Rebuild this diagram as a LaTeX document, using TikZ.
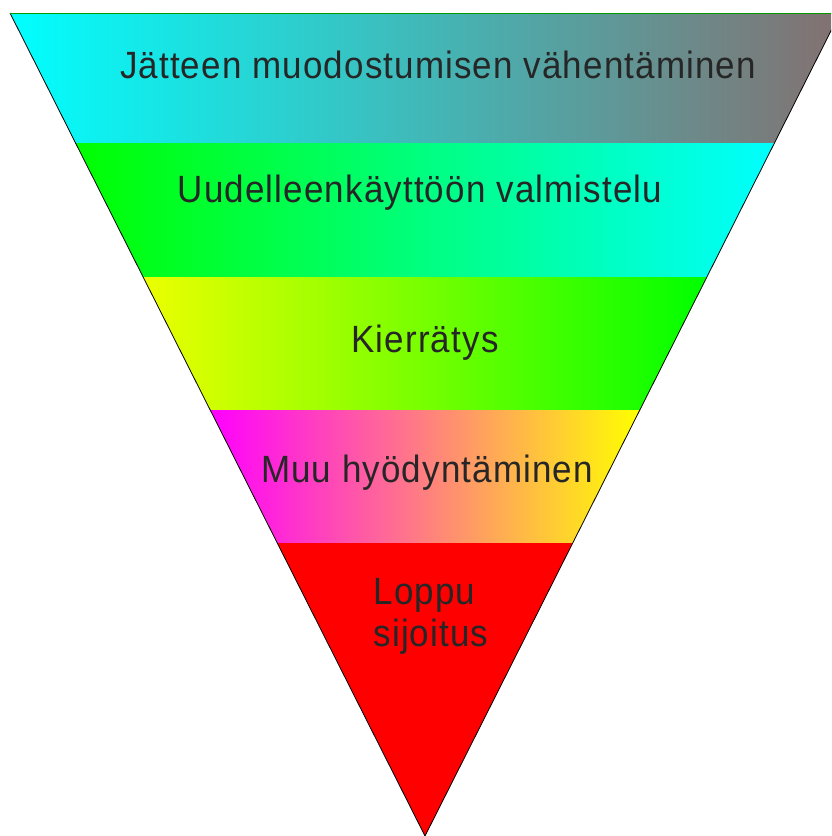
\documentclass[tikz,border=0pt]{standalone}
\usepackage{fontspec}
\setmainfont{Liberation Sans}[FakeStretch=0.92,LetterSpace=3]
\usetikzlibrary{calc}
\definecolor{topgrey}{RGB}{132,112,112}
\definecolor{lemon}{RGB}{236,255,0}
\tikzset{bandtext/.style={font=\fontsize{38}{42}\selectfont, text=black!85}}

\begin{document}
\begin{tikzpicture}[x=1pt,y=-1pt]
		%%%%% START %%%%%
		\clip (0,0) rectangle (831,836);

		\begin{scope}
			\clip (10,13) -- (840,13) -- (425,836) -- cycle;
			\shade[left color=cyan, right color=topgrey] (10,13) rectangle (840,143);
			\shade[left color=green, right color=cyan] (75,143) rectangle (775,277);
			\shade[left color=lemon, right color=green] (143,277) rectangle (707,410);
			\shade[left color=magenta, right color=yellow] (210,410) rectangle (640,543);
			\fill[red] (277,543) rectangle (573,836);
		\end{scope}

		\draw[line width=0.8pt] (10,13) -- (425,836) -- (840,13);
		\draw[line width=1pt, color=green!60!black] (10,13) -- (840,13);

		\node[bandtext] (reduce) at (438,65) {Jätteen muodostumisen vähentäminen};
		\node[bandtext] (reuse) at (420,193) {Uudelleenkäyttöön valmistelu};
		\node[bandtext] (recycle) at (425,343) {Kierrätys};
		\node[bandtext] (recover) at (427,473) {Muu hyödyntäminen};
		\node[bandtext, align=left] (dispose) at (431,616) {Loppu\\sijoitus};
		%%%%% END %%%%%
	\end{tikzpicture}
\end{document}
